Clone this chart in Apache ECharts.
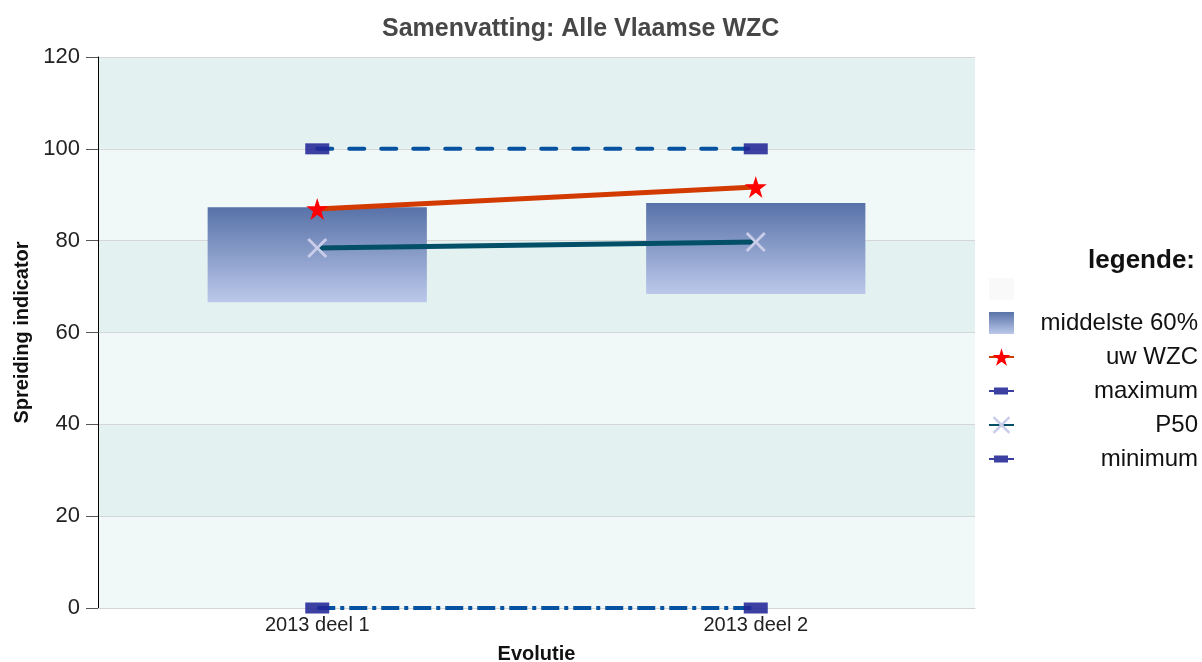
<!DOCTYPE html>
<html>
<head>
<meta charset="utf-8">
<script src="https://cdn.jsdelivr.net/npm/echarts@6/dist/echarts.min.js"></script>
<style>
  html, body { margin: 0; padding: 0; background: #fff; }
  #chart { width: 1202px; height: 662px; }
</style>
</head>
<body>
<div id="chart"></div>
<script>
const categories = ['2013 deel 1', '2013 deel 2']
// middelste 60% (P20 - P80)
const boxLow = [66.6, 68.4]
const boxHigh = [87.3, 88.2]
const uwWzc = [86.9, 91.7]
const maximum = [100, 100]
const p50 = [78.4, 79.7]
const minimum = [0, 0]

const crossPath = 'path://M1,0 L5,4 L9,0 L10,1 L6,5 L10,9 L9,10 L5,6 L1,10 L0,9 L4,5 L0,1 Z'
const starPath = 'path://M50,0 L61.8,36.2 L100,36.2 L69.1,58.8 L80.9,95.1 L50,72.6 L19.1,95.1 L30.9,58.8 L0,36.2 L38.2,36.2 Z'
// legend icon: thin line with a small block in the middle
const rangeIcon = 'path://M0,0 L0,0 M25,22 L25,22 M0,10 L25,10 L25,12 L0,12 Z M5,7.5 L19,7.5 L19,14.5 L5,14.5 Z'

const chart = echarts.init(document.getElementById('chart'), null)

const option = {
  animation: false,
  backgroundColor: '#ffffff',
  textStyle: { fontFamily: 'Liberation Sans, Arial, sans-serif' },
  title: [
    {
      text: 'Samenvatting: Alle Vlaamse WZC',
      left: 377,
      top: 12,
      textStyle: { fontSize: 25, fontWeight: 'bold', color: '#474747' }
    },
    {
      text: 'legende:',
      right: 2,
      top: 243,
      textStyle: { fontSize: 26, fontWeight: 'bold', color: '#111' }
    }
  ],
  grid: { left: 98, right: 227, top: 57, bottom: 54, outerBoundsMode: 'none' },
  // 图例
  legend: {
    orient: 'vertical',
    left: 983,
    top: 272,
    itemGap: 10,
    itemWidth: 25,
    itemHeight: 22,
    selectedMode: false,
    data: [
      { name: ' ', icon: 'rect' },
      { name: 'middelste 60%', icon: 'rect' },
      'uw WZC',
      { name: 'maximum', icon: rangeIcon },
      'P50',
      { name: 'minimum', icon: rangeIcon }
    ],
    formatter: function (name) { return '{a|' + name + '}' },
    textStyle: {
      rich: { a: { width: 179, align: 'right', fontSize: 24, color: '#111' } }
    }
  },
  xAxis: {
    type: 'category',
    data: categories,
    name: 'Evolutie',
    nameLocation: 'middle',
    nameGap: 36,
    nameTextStyle: { fontSize: 20, fontWeight: 'bold', color: '#111' },
    axisLine: { show: true, lineStyle: { color: '#d4d4d4', width: 1 } },
    axisTick: { show: false },
    axisLabel: { fontSize: 20, color: '#222', margin: 7 },
    splitLine: { show: false }
  },
  yAxis: {
    type: 'value',
    min: 0,
    max: 120,
    interval: 20,
    name: 'Spreiding indicator',
    nameLocation: 'middle',
    nameGap: 66,
    nameTextStyle: { fontSize: 20, fontWeight: 'bold', color: '#111' },
    axisLine: { show: true, lineStyle: { color: '#000', width: 1 } },
    axisTick: { show: true, length: 12, lineStyle: { color: '#555' } },
    axisLabel: { fontSize: 22, color: '#222', margin: 18 },
    splitLine: { show: true, lineStyle: { color: '#d6d6d6', width: 1 } },
    splitArea: { show: true, areaStyle: { color: ['#f0f9f8', '#e3f2f1'] } }
  },
  series: [
    {
      name: ' ',
      type: 'line',
      data: [],
      itemStyle: { color: '#f9f9f9' },
      lineStyle: { color: '#f9f9f9' }
    },
    {
      name: 'base',
      type: 'bar',
      stack: 'box',
      barWidth: '50%',
      silent: true,
      itemStyle: { color: 'transparent' },
      data: boxLow
    },
    {
      name: 'middelste 60%',
      type: 'bar',
      stack: 'box',
      barWidth: '50%',
      itemStyle: {
        color: new echarts.graphic.LinearGradient(0, 0, 0, 1, [
          { offset: 0, color: '#5872a8' },
          { offset: 1, color: '#bbc8ea' }
        ])
      },
      data: boxHigh.map((v, i) => +(v - boxLow[i]).toFixed(1))
    },
    {
      name: 'maximum',
      type: 'line',
      data: maximum,
      symbol: 'rect',
      symbolSize: [24, 11],
      itemStyle: { color: 'rgba(34,38,150,0.88)' },
      lineStyle: { color: '#0552a0', width: 4, type: [15, 17], cap: 'round' },
      z: 3
    },
    {
      name: 'minimum',
      type: 'line',
      data: minimum,
      symbol: 'rect',
      symbolSize: [24, 11],
      itemStyle: { color: 'rgba(34,38,150,0.88)' },
      lineStyle: { color: '#0552a0', width: 4, type: [18, 5, 4, 5] },
      z: 3
    },
    {
      name: 'P50',
      type: 'line',
      data: p50,
      symbol: crossPath,
      symbolSize: 20,
      itemStyle: { color: '#c9cde9' },
      lineStyle: { color: '#034f68', width: 5 },
      z: 4
    },
    {
      name: 'uw WZC',
      type: 'line',
      data: uwWzc,
      symbol: starPath,
      symbolSize: 22,
      itemStyle: { color: '#ff0000' },
      lineStyle: { color: '#d23a00', width: 5 },
      z: 5
    }
  ]
}

chart.setOption(option)
</script>
</body>
</html>
